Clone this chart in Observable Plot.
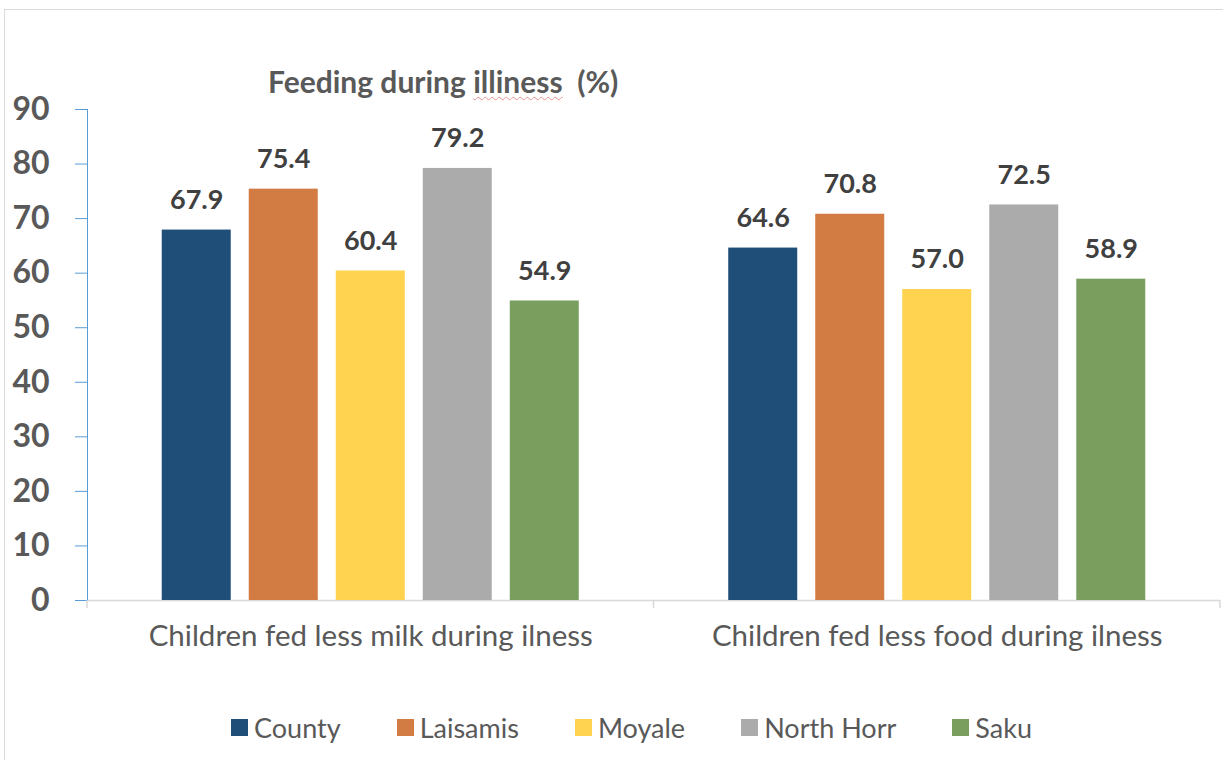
<!DOCTYPE html>
<html>
<head>
<meta charset="utf-8">
<script src="https://cdn.jsdelivr.net/npm/d3@7"></script>
<script src="https://cdn.jsdelivr.net/npm/@observablehq/plot@0.6"></script>
<style>
  html, body { margin: 0; padding: 0; background: #fff; overflow: hidden; }
  #wrap { position: relative; width: 1223px; height: 760px; font-family: Lato, "Open Sans", sans-serif; }
  #border { position: absolute; left: 4px; top: 9px; width: 1400px; height: 900px; border-left: 1px solid #D9D9D9; border-top: 1px solid #D9D9D9; }
  #title { position: absolute; left: 268px; top: 63px; font-size: 30px; font-weight: bold; color: #595959; white-space: pre; }
  #title .sq { text-decoration: underline wavy; text-decoration-color: #E89090; text-decoration-thickness: 1px; text-underline-offset: 3px; }
  #chart { position: absolute; left: 0; top: 0; }
  #legend { position: absolute; left: 0; width: 1223px; top: 711px; display: flex; justify-content: center; padding-left: 40px; box-sizing: border-box; font-size: 27px; color: #595959; }
  .item { display: flex; align-items: center; margin: 0 28px; }
  .sw { width: 17px; height: 17px; margin-right: 6px; }
</style>
</head>
<body>
<div id="wrap">
  <div id="border"></div>
  <div id="chart"></div>
  <div id="title">Feeding during <span class="sq">illiness</span>  (%)</div>
  <div id="legend"></div>
</div>
<script>
const categories = ["Children fed less milk during ilness", "Children fed less food during ilness"];
const regions = ["County", "Laisamis", "Moyale", "North Horr", "Saku"];
const milkValues = [67.9, 75.4, 60.4, 79.2, 54.9];
const foodValues = [64.6, 70.8, 57.0, 72.5, 58.9];
const colors = ["#1F4E79", "#D27B42", "#FFD34F", "#ABABAB", "#7A9E5E"];
const yTicks = [0, 10, 20, 30, 40, 50, 60, 70, 80, 90];

const data = [];
[milkValues, foodValues].forEach((vals, ci) => {
  vals.forEach((v, ri) => data.push({category: categories[ci], region: regions[ri], value: v}));
});

const chart = Plot.plot({
  width: 1223,
  height: 672,
  marginLeft: 87,
  marginRight: 3,
  marginTop: 109,
  marginBottom: 72,
  style: {fontFamily: "Lato, 'Open Sans', sans-serif", background: "transparent"},
  fx: {domain: categories, padding: 0, label: null, round: false},
  x: {domain: regions, paddingInner: 0.207, paddingOuter: 0.859, axis: null, round: false},
  y: {domain: [0, 90], label: null},
  color: {domain: regions, range: colors},
  marks: [
    Plot.ruleY([0], {stroke: "#D9D9D9", strokeWidth: 1.5}),
    Plot.barY(data, {fx: "category", x: "region", y: "value", fill: "region"}),
    Plot.text(data, {fx: "category", x: "region", y: "value", text: d => d.value.toFixed(1),
      dy: -30, fontSize: 27, fontWeight: "bold", fill: "#404040", lineAnchor: "middle"}),
    Plot.frame({anchor: "left", stroke: "#5B9BD5", facet: "super"}),
    Plot.axisY({ticks: yTicks, tickSize: 12, stroke: "#5B9BD5", text: null, label: null}),
    Plot.axisY({ticks: yTicks, tickSize: 0, tickPadding: 38, fill: "#595959", fontSize: 32,
      fontWeight: "bold", label: null, tickFormat: d => String(d)}),
    Plot.axisFx({anchor: "bottom", tickSize: 0, tickPadding: 25, fontSize: 29.5, fill: "#595959", label: null})
  ]
});
document.getElementById("chart").appendChild(chart);

// boundary ticks below the category axis, from the library's scales
const fx = chart.scale("fx");
const y = chart.scale("y");
const y0 = y.apply(0);
const edges = categories.map(c => fx.apply(c));
edges.push(fx.apply(categories[categories.length - 1]) + fx.bandwidth);
const svg = d3.select(chart.tagName.toLowerCase() === "svg" ? chart : chart.querySelector("svg"));
svg.append("g").selectAll("line").data(edges).join("line")
  .attr("x1", d => d).attr("x2", d => d)
  .attr("y1", y0).attr("y2", y0 + 8).attr("stroke", "#D9D9D9").attr("stroke-width", 1.5);

const legend = d3.select("#legend");
regions.forEach((r, i) => {
  const it = legend.append("div").attr("class", "item");
  it.append("div").attr("class", "sw").style("background", colors[i]);
  it.append("span").text(r);
});
</script>
</body>
</html>
